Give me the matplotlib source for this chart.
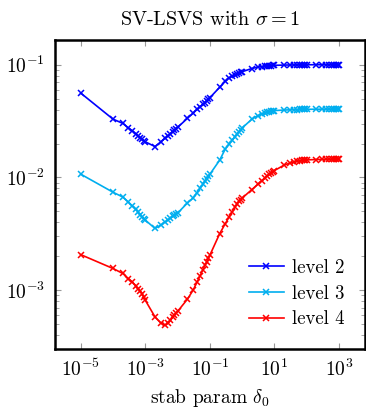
import matplotlib
matplotlib.use("Agg")
import matplotlib.pyplot as plt
from matplotlib.ticker import FixedLocator, LogLocator, NullLocator

plt.rcParams['font.family'] = 'serif'
plt.rcParams['font.serif'] = ['cmr10', 'DejaVu Serif']
plt.rcParams['mathtext.fontset'] = 'cm'
plt.rcParams['axes.formatter.use_mathtext'] = True

# stabilisation parameter values (same for all levels)
delta = [1e-5,
         1e-4, 2e-4, 3e-4, 4e-4, 5e-4, 6e-4, 7e-4, 8e-4, 9e-4,
         1e-3, 2e-3, 3e-3, 4e-3, 5e-3, 6e-3, 7e-3, 8e-3, 9e-3,
         1e-2, 2e-2, 3e-2, 4e-2, 5e-2, 6e-2, 7e-2, 8e-2, 9e-2,
         1e-1, 2e-1, 3e-1, 4e-1, 5e-1, 6e-1, 7e-1, 8e-1, 9e-1,
         1, 2, 3, 4, 5, 6, 7, 8, 9,
         10, 20, 30, 40, 50, 60, 70, 80, 90,
         100, 200, 300, 400, 500, 600, 700, 800, 900,
         1000]

level2 = [0.056,
          0.0329, 0.0302, 0.0275, 0.0259, 0.0244, 0.0234, 0.0224, 0.0218, 0.0211,
          0.0207, 0.0188, 0.0207, 0.0222, 0.0234, 0.0245, 0.0255, 0.0263, 0.0271,
          0.0278, 0.0334, 0.0371, 0.0401, 0.0424, 0.0444, 0.0461, 0.0477, 0.0493,
          0.0510, 0.0630, 0.0712, 0.0769, 0.0787, 0.0811, 0.0833, 0.0844, 0.0856,
          0.0867, 0.0925, 0.0952, 0.0960, 0.0968, 0.0974, 0.0980, 0.0983, 0.0985,
          0.0987, 0.0992, 0.0994, 0.0995, 0.0996, 0.0997, 0.0997, 0.0998, 0.0998,
          0.0999, 0.0999, 0.0999, 0.1000, 0.1000, 0.1000, 0.1000, 0.1000, 0.1000,
          0.1000]

level3 = [0.0107,
          0.0074, 0.00671, 0.00605, 0.00558, 0.00525, 0.00493, 0.00469, 0.0045, 0.00432,
          0.00419, 0.00353, 0.00378, 0.00402, 0.0042, 0.00436, 0.00452, 0.00464, 0.00477,
          0.00483, 0.00593, 0.00658, 0.00734, 0.00805, 0.00867, 0.00923, 0.00975, 0.01025,
          0.0107, 0.01422, 0.0179, 0.0199, 0.0215, 0.0230, 0.0243, 0.0255, 0.0265,
          0.0275, 0.0329, 0.0353, 0.0366, 0.0376, 0.0380, 0.0384, 0.0388, 0.0390,
          0.0392, 0.0396, 0.0398, 0.0399, 0.0400, 0.0401, 0.0401, 0.0402, 0.0402,
          0.0402, 0.0403, 0.0403, 0.0403, 0.0403, 0.0403, 0.0403, 0.0403, 0.0403,
          0.0403]

level4 = [0.00207,
          0.00156, 0.00141, 0.00127, 0.00118, 0.0011, 0.00103, 0.00098, 0.00093, 0.000865,
          0.000815, 0.00058, 0.000514, 0.000489, 0.000509, 0.000541, 0.000575, 0.000605, 0.00063,
          0.00065, 0.000832, 0.0010, 0.00118, 0.00135, 0.00151, 0.00166, 0.00179, 0.00192,
          0.00205, 0.00317, 0.0039, 0.0045, 0.00499, 0.00547, 0.00587, 0.00618, 0.00637,
          0.00657, 0.00782, 0.00867, 0.00937, 0.00991, 0.01035, 0.01067, 0.0110, 0.01128,
          0.01153, 0.01288, 0.0134, 0.01374, 0.01393, 0.01406, 0.01415, 0.01422, 0.01428,
          0.01433, 0.01443, 0.01447, 0.0145, 0.0145, 0.01451, 0.01452, 0.01452, 0.01452,
          0.01452]

xticks = [1e-5, 1e-3, 1e-1, 1e1, 1e3]

series = [("level 2", level2, "#0000ff"),
          ("level 3", level3, "#00aeef"),
          ("level 4", level4, "#ff0000")]

fig = plt.figure(figsize=(3.66, 4.11), dpi=100)
ax = fig.add_axes([0.150, 0.151, 0.847, 0.752])

for name, vals, col in series:
    ax.plot(delta, vals, color=col, marker='x', markersize=5,
            markeredgewidth=1.1, linewidth=1.2, label=name)

ax.set_xscale('log')
ax.set_yscale('log')
ax.set_xlim(10**-5.8, 10**3.8)
ax.set_ylim(10**-3.52, 10**-0.78)

ax.xaxis.set_major_locator(FixedLocator(xticks))
ax.xaxis.set_minor_locator(NullLocator())
ax.yaxis.set_major_locator(LogLocator(base=10.0, numticks=10))
ax.yaxis.set_minor_locator(LogLocator(base=10.0, subs=range(2, 10), numticks=10))

ax.tick_params(which='both', direction='in', top=True, right=True,
               color='0.6', labelsize=14)
ax.tick_params(which='major', length=4.5, width=0.8, pad=7)
ax.tick_params(which='minor', length=2.8, width=0.6)
for sp in ax.spines.values():
    sp.set_linewidth(1.8)

ax.set_xlabel(r'stab param $\delta_0$', fontsize=14, labelpad=5)
ax.set_title(r'SV-LSVS with $\sigma = 1$', fontsize=14.5, pad=11)

ax.legend(loc='lower right', frameon=False, fontsize=13.5, numpoints=1,
          handlelength=1.9, handletextpad=0.4, labelspacing=0.42,
          borderaxespad=0.7)

fig.savefig('out.png', dpi=100)
